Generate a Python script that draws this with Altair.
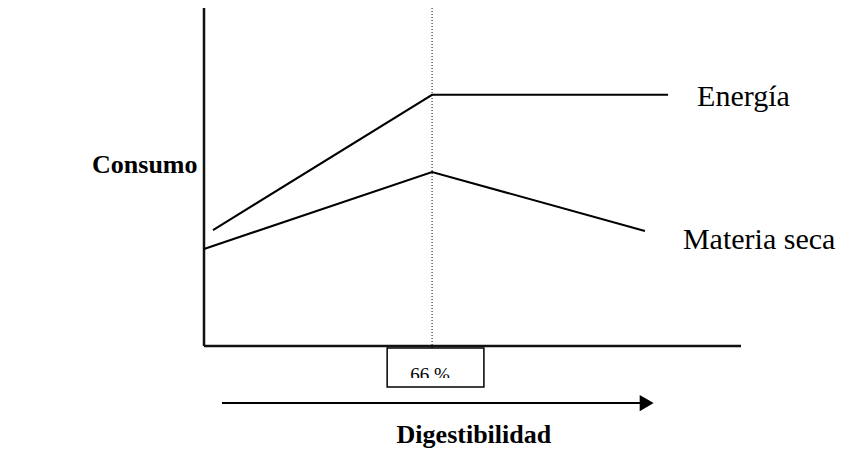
import altair as alt
import pandas as pd

# ---- data (digestibility in %, intake in relative units) ----
series_names = ["Energía", "Materia seca"]
dig_energia = [2.6, 66, 134.3]
cons_energia = [34.3, 74.3, 74.3]
dig_ms = [0, 66, 127.6]
cons_ms = [28.7, 51.5, 34.0]
threshold = 66
threshold_label = "66 %"
x_label = "Digestibilidad"
y_label = "Consumo"

XD = [0, 155.4]
YD = [0, 102.37]

FONT = "Liberation Serif"

xs = alt.Scale(domain=XD, nice=False, zero=False)
ys = alt.Scale(domain=YD, nice=False, zero=False)

lines_df = pd.DataFrame(
    [{"serie": series_names[0], "o": i, "x": x, "y": y} for i, (x, y) in enumerate(zip(dig_energia, cons_energia))]
    + [{"serie": series_names[1], "o": i, "x": x, "y": y} for i, (x, y) in enumerate(zip(dig_ms, cons_ms))]
)

lines = alt.Chart(lines_df).mark_line(color="black", strokeWidth=2).encode(
    x=alt.X("x:Q", scale=xs, axis=None),
    y=alt.Y("y:Q", scale=ys, axis=None),
    detail="serie:N",
    order="o:Q",
)

axes_df = pd.DataFrame({
    "x": [0, 0], "x2": [0, XD[1]],
    "y": [0, 0], "y2": [YD[1], 0],
})
axes = alt.Chart(axes_df).mark_rule(color="#111", strokeWidth=2.5).encode(
    x=alt.X("x:Q", scale=xs, axis=None), x2="x2:Q",
    y=alt.Y("y:Q", scale=ys, axis=None), y2="y2:Q",
)

dot_df = pd.DataFrame({"x": [threshold], "y": [-0.6], "y2": [YD[1]]})
dotted = alt.Chart(dot_df).mark_rule(color="black", strokeWidth=1, strokeDash=[1, 2]).encode(
    x=alt.X("x:Q", scale=xs, axis=None),
    y=alt.Y("y:Q", scale=ys, axis=None), y2="y2:Q",
)

box_df = pd.DataFrame({"x": [53.0], "x2": [81.0], "y": [-0.6], "y2": [-12.1]})
box = alt.Chart(box_df).mark_rect(fill="white", stroke="black", strokeWidth=1.5).encode(
    x=alt.X("x:Q", scale=xs, axis=None), x2="x2:Q",
    y=alt.Y("y:Q", scale=ys, axis=None), y2="y2:Q",
)

box_text_df = pd.DataFrame({"x": [65.4], "y": [-10.4], "t": [threshold_label]})
box_text = alt.Chart(box_text_df).mark_text(
    font=FONT, fontSize=19, align="center", baseline="alphabetic", color="black"
).encode(
    x=alt.X("x:Q", scale=xs, axis=None),
    y=alt.Y("y:Q", scale=ys, axis=None),
    text="t:N",
)

cover_df = pd.DataFrame({"x": [53.6], "x2": [80.4], "y": [-9.5], "y2": [-11.7]})
cover = alt.Chart(cover_df).mark_rect(fill="white", strokeWidth=0).encode(
    x=alt.X("x:Q", scale=xs, axis=None), x2="x2:Q",
    y=alt.Y("y:Q", scale=ys, axis=None), y2="y2:Q",
)

arrow_df = pd.DataFrame({"x": [5.2], "x2": [128.0], "y": [-16.9]})
arrow_line = alt.Chart(arrow_df).mark_rule(color="black", strokeWidth=2).encode(
    x=alt.X("x:Q", scale=xs, axis=None), x2="x2:Q",
    y=alt.Y("y:Q", scale=ys, axis=None),
)
head_df = pd.DataFrame({"x": [128.1], "y": [-16.9]})
arrow_head = alt.Chart(head_df).mark_point(
    shape="triangle-right", filled=True, color="black", size=260, opacity=1
).encode(
    x=alt.X("x:Q", scale=xs, axis=None),
    y=alt.Y("y:Q", scale=ys, axis=None),
)

labels_df = pd.DataFrame({
    "x": [142.7, 138.6],
    "y": [73.7, 31.4],
    "t": series_names,
})
labels = alt.Chart(labels_df).mark_text(
    font=FONT, fontSize=30, align="left", baseline="middle", color="black"
).encode(
    x=alt.X("x:Q", scale=xs, axis=None),
    y=alt.Y("y:Q", scale=ys, axis=None),
    text="t:N",
)

ylab_df = pd.DataFrame({"x": [-32.4], "y": [53.6], "t": [y_label]})
ylab = alt.Chart(ylab_df).mark_text(
    font=FONT, fontSize=26, fontWeight="bold", align="left", baseline="middle", color="black"
).encode(
    x=alt.X("x:Q", scale=xs, axis=None),
    y=alt.Y("y:Q", scale=ys, axis=None),
    text="t:N",
)

xlab_df = pd.DataFrame({"x": [78.1], "y": [-26.3], "t": [x_label]})
xlab = alt.Chart(xlab_df).mark_text(
    font=FONT, fontSize=26, fontWeight="bold", align="center", baseline="middle", color="black"
).encode(
    x=alt.X("x:Q", scale=xs, axis=None),
    y=alt.Y("y:Q", scale=ys, axis=None),
    text="t:N",
)

chart = alt.layer(
    axes, lines, dotted, box, box_text, cover, arrow_line, arrow_head, labels, ylab, xlab
).properties(
    width=537,
    height=346,
    autosize=alt.AutoSizeParams(type="none"),
    padding={"left": 196, "top": -8, "right": 97, "bottom": 120},
    background="white",
).configure_view(strokeWidth=0)

chart.save("out.html", embed_options={"renderer": "svg", "actions": False})
